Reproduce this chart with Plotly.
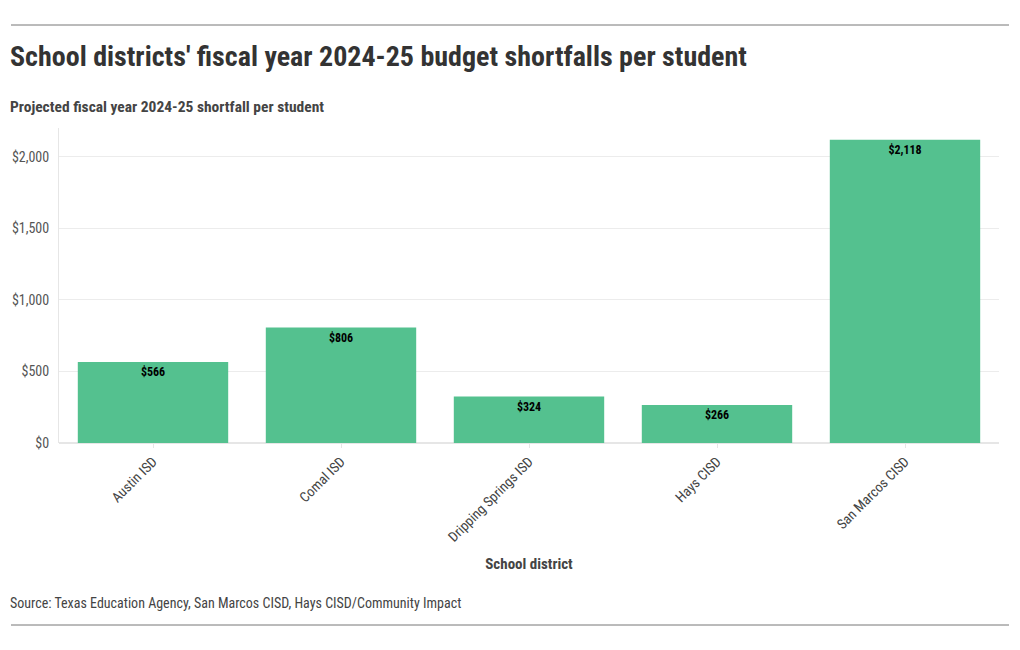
import plotly.graph_objects as go

districts = ["Austin ISD", "Comal ISD", "Dripping Springs ISD", "Hays CISD", "San Marcos CISD"]
shortfall = [566, 806, 324, 266, 2118]
y_ticks = [0, 500, 1000, 1500, 2000]
y_tick_labels = ["$0", "$500", "$1,000", "$1,500", "$2,000"]

FONT = "Roboto Condensed, Liberation Sans Narrow, DejaVu Sans Condensed, Roboto, sans-serif"

PW = 940.0
PH = 315.0
def px_x(x):
    return (x - 59) / PW
def px_y(y):
    return (650 - 207 - y) / PH

fig = go.Figure(go.Bar(
    x=districts,
    y=shortfall,
    marker=dict(color="#54c18f", line=dict(width=0)),
    text=[f"${v:,}" for v in shortfall],
    textposition="inside",
    insidetextanchor="end",
    textangle=0,
    textfont=dict(family=FONT, size=12, color="#000000", weight="bold"),
    cliponaxis=False,
))

fig.update_layout(
    width=1020, height=650,
    margin=dict(l=59, r=21, t=128, b=207),
    paper_bgcolor="white", plot_bgcolor="white",
    font=dict(family=FONT, color="#444"),
    bargap=0.2,
    showlegend=False,
    xaxis=dict(
        tickangle=-45,
        tickfont=dict(size=14, color="#444"),
        showgrid=False,
        ticks="outside", ticklen=4, tickcolor="#e6e6e6",
        title=dict(text="<b>School district</b>", font=dict(size=15, color="#444"), standoff=14),
        showline=False,
    ),
    yaxis=dict(
        range=[0, 2200],
        tickvals=y_ticks,
        ticktext=y_tick_labels,
        tickfont=dict(size=14, color="#555"),
        gridcolor="#ececec",
        zeroline=True, zerolinecolor="#e6e6e6",
        showline=True, linecolor="#e6e6e6", linewidth=1,
        ticks="",
        ticklabelstandoff=6,
    ),
    shapes=[
        dict(type="line", xref="paper", yref="paper", x0=px_x(11), x1=px_x(1009), y0=px_y(25), y1=px_y(25),
             line=dict(color="#777", width=1)),
        dict(type="line", xref="paper", yref="paper", x0=px_x(11), x1=px_x(1009), y0=px_y(625), y1=px_y(625),
             line=dict(color="#777", width=1)),
    ],
    annotations=[
        dict(text="<b>School districts' fiscal year 2024-25 budget shortfalls per student</b>",
             xref="paper", yref="paper", x=px_x(8), y=px_y(57), xanchor="left", yanchor="middle",
             showarrow=False, font=dict(size=28, color="#333")),
        dict(text="<b>Projected fiscal year 2024-25 shortfall per student</b>",
             xref="paper", yref="paper", x=px_x(8), y=px_y(107), xanchor="left", yanchor="middle",
             showarrow=False, font=dict(size=15.5, color="#444")),
        dict(text="Source: Texas Education Agency, San Marcos CISD, Hays CISD/Community Impact",
             xref="paper", yref="paper", x=px_x(8), y=px_y(603), xanchor="left", yanchor="middle",
             showarrow=False, font=dict(size=14, color="#444")),
    ],
)

fig.write_html("out.html")
